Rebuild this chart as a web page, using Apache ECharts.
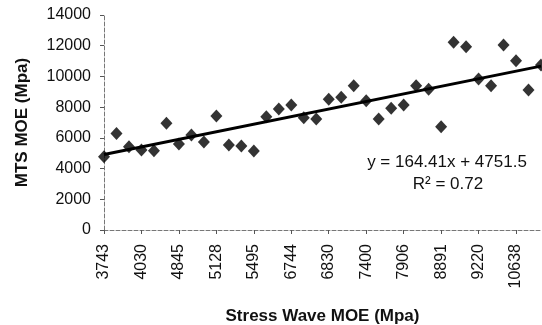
<!DOCTYPE html>
<html>
<head>
<meta charset="utf-8">
<script src="https://cdn.jsdelivr.net/npm/echarts@6/dist/echarts.min.js"></script>
<style>
  html, body { margin: 0; padding: 0; background: #fff; }
  #main { width: 542px; height: 325px; }
</style>
</head>
<body>
<div id="main"></div>
<script>
// stress wave MOE categories (only every 3rd one is labelled in the figure)
var stressWave = ['3743', '3850', '3960', '4030', '4310', '4620', '4845', '4950', '5040',
  '5128', '5260', '5390', '5495', '5930', '6350', '6744', '6780', '6810', '6830', '7020',
  '7210', '7400', '7560', '7730', '7906', '8240', '8570', '8891', '8990', '9100', '9220',
  '9680', '10150', '10638', '10900', '11200'];
// MTS MOE values
var mtsMoe = [4770, 6290, 5420, 5210, 5160, 6950, 5600, 6180, 5730, 7420, 5530, 5470,
  5140, 7380, 7880, 8140, 7310, 7220, 8510, 8640, 9390, 8420, 7230, 7920, 8140, 9390,
  9160, 6730, 12220, 11930, 9830, 9390, 12040, 11020, 9110, 10740];
var yTicks = [0, 2000, 4000, 6000, 8000, 10000, 12000, 14000];
// linear trend as printed on the chart
var slope = 164.41, intercept = 4751.5;
var trend = [
  [stressWave[0], slope * 1 + intercept],
  [stressWave[stressWave.length - 1], slope * stressWave.length + intercept]
];

var myChart = echarts.init(document.getElementById('main'));
var font = 'Liberation Sans, Arial, sans-serif';

var option = {
  backgroundColor: '#fff',
  animation: false,
  grid: { left: 104, right: 1, top: 15, bottom: 95, outerBoundsMode: 'none' },
  xAxis: {
    type: 'category',
    boundaryGap: false,
    data: stressWave,
    name: 'Stress Wave MOE (Mpa)',
    nameLocation: 'middle',
    nameGap: 78,
    nameTextStyle: { color: '#111', fontSize: 17, fontWeight: 'bold', fontFamily: font },
    axisLine: { lineStyle: { color: '#777', type: 'dashed', width: 1 } },
    axisTick: { interval: 2, length: 4, lineStyle: { color: '#555' } },
    axisLabel: {
      interval: 2, rotate: 90, margin: 14, color: '#111',
      fontSize: 16, fontFamily: font
    },
    splitLine: { show: false }
  },
  yAxis: {
    type: 'value',
    min: 0,
    max: yTicks[yTicks.length - 1],
    interval: yTicks[1] - yTicks[0],
    name: 'MTS MOE (Mpa)',
    nameLocation: 'middle',
    nameGap: 73,
    nameTextStyle: { color: '#111', fontSize: 17, fontWeight: 'bold', fontFamily: font },
    axisLine: { show: true, lineStyle: { color: '#777', type: 'dashed', width: 1 } },
    axisTick: { show: true, length: 4, lineStyle: { color: '#555' } },
    axisLabel: {
      margin: 13, color: '#111', fontSize: 16, fontFamily: font,
      formatter: function (v) { return String(v); }
    },
    splitLine: { show: false }
  },
  series: [
    {
      type: 'line',
      data: trend,
      symbol: 'none',
      lineStyle: { color: '#000', width: 3 },
      z: 2
    },
    {
      type: 'scatter',
      data: mtsMoe,
      symbol: 'diamond',
      symbolSize: [12, 13],
      itemStyle: { color: '#000' },
      z: 3
    }
  ],
  graphic: [
    {
      type: 'text', x: 447, y: 162,
      style: {
        text: 'y = 164.41x + 4751.5', fill: '#111', font: '17px ' + font,
        align: 'center', verticalAlign: 'middle'
      }
    },
    {
      type: 'text', x: 448, y: 184,
      style: {
        text: 'R² = 0.72', fill: '#111', font: '17px ' + font,
        align: 'center', verticalAlign: 'middle'
      }
    }
  ]
};

myChart.setOption(option);
</script>
</body>
</html>
